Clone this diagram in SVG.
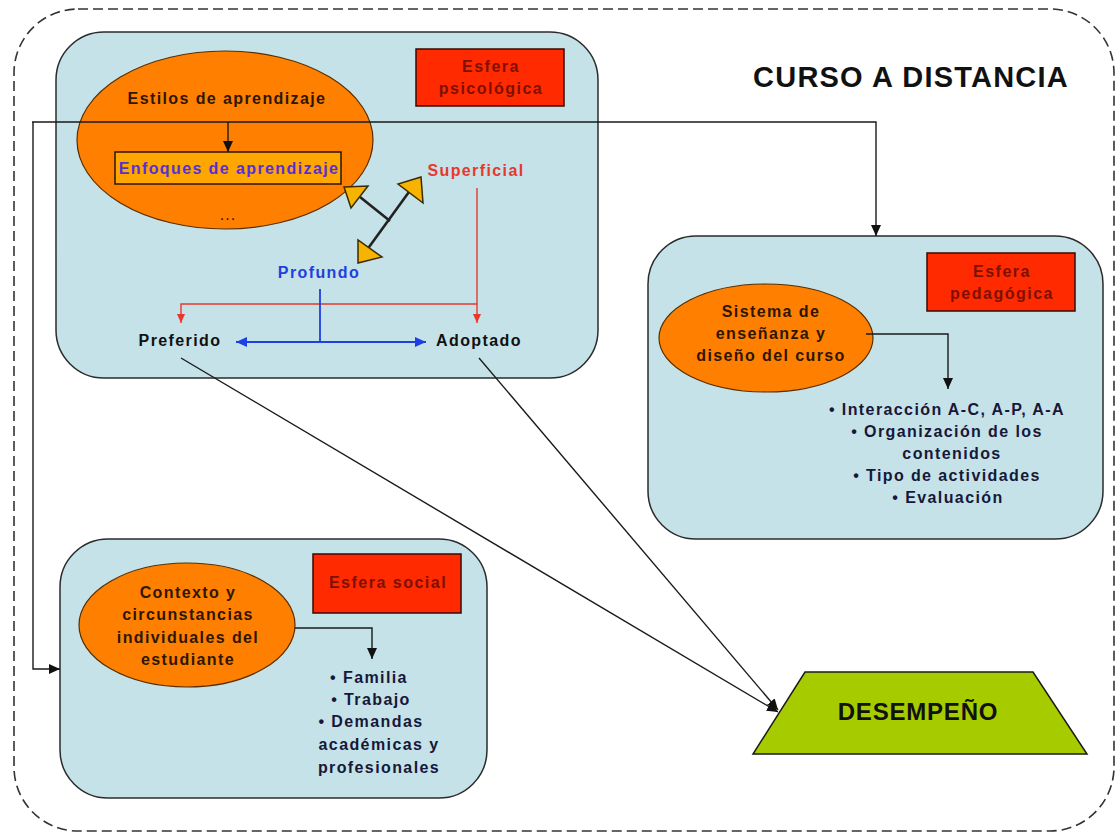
<svg xmlns="http://www.w3.org/2000/svg" width="1118" height="834" viewBox="0 0 1118 834">
  <defs>
    <style>
      .txt { font-family: "Liberation Sans", Arial, Helvetica, sans-serif; font-weight: bold; font-size: 16px; letter-spacing: 1.4px; text-anchor: middle; }
      .dark { fill: #2e1600; }
      .item { fill: #17173a; }
      .lab { fill: #7e1000; letter-spacing: 1.5px; }
      .sphere { fill: #c4e2e7; stroke: #2b2b2b; stroke-width: 1.5; }
      .oval { fill: #ff8000; stroke: #5a2d00; stroke-width: 1.2; }
      .tag { fill: #ff2a00; stroke: #3a0a00; stroke-width: 1.5; }
      .tri { fill: #f6b300; stroke: #3b2a00; stroke-width: 1.5; stroke-linejoin: miter; }
      .link { fill: none; stroke: #1a1a1a; stroke-width: 1.4; }
      .red { fill: none; stroke: #e8382d; stroke-width: 1.4; }
      .blue { fill: none; stroke: #1f3fe0; stroke-width: 1.8; }
    </style>
    <marker id="ah" markerUnits="userSpaceOnUse" markerWidth="12" markerHeight="10" refX="11" refY="5" orient="auto">
      <path d="M0,0 L11,5 L0,10 z" fill="#111"/>
    </marker>
    <marker id="ah-red" markerUnits="userSpaceOnUse" markerWidth="10" markerHeight="8" refX="9" refY="4" orient="auto">
      <path d="M0,0 L9,4 L0,8 z" fill="#e8382d"/>
    </marker>
    <marker id="ah-blue" markerUnits="userSpaceOnUse" markerWidth="12" markerHeight="10" refX="11" refY="5" orient="auto-start-reverse">
      <path d="M0,0 L11,5 L0,10 z" fill="#1f3fe0"/>
    </marker>
  </defs>

  <rect width="1118" height="834" fill="#ffffff"/>

  <!-- course frame -->
  <g id="curso-frame">
    <rect x="14" y="9" width="1100" height="822" rx="64" ry="64" fill="none" stroke="#333" stroke-width="1.6" stroke-dasharray="10 5"/>
    <text class="txt" x="911" y="87" style="font-size:29px; letter-spacing:1.2px; fill:#111">CURSO A DISTANCIA</text>
  </g>

  <!-- psychological sphere -->
  <g id="esfera-psicologica">
    <rect class="sphere" x="56" y="32" width="542" height="346" rx="48" ry="48"/>
    <ellipse class="oval" cx="225" cy="140" rx="148" ry="89"/>
    <text class="txt dark" x="227" y="104">Estilos de aprendizaje</text>
    <rect x="115" y="152" width="226" height="32" fill="#ffa600" stroke="#2a1500" stroke-width="1.5"/>
    <text class="txt" x="229" y="174" style="fill:#5530d8">Enfoques de aprendizaje</text>
    <text class="txt dark" x="228" y="220" style="font-weight:normal; letter-spacing:1px">...</text>
    <rect class="tag" x="416" y="49" width="148" height="57"/>
    <text class="txt lab" x="491" y="72">Esfera</text>
    <text class="txt lab" x="491" y="94">psicológica</text>
    <!-- approach switch -->
    <line x1="360" y1="197" x2="390" y2="221" stroke="#222" stroke-width="2.6"/>
    <line x1="364" y1="254" x2="414" y2="185" stroke="#222" stroke-width="2.6"/>
    <polygon class="tri" points="344,187 368,186 351,208"/>
    <polygon class="tri" points="421,177 398,184 423,203"/>
    <polygon class="tri" points="358,263 358,240 382,257"/>
    <text class="txt" x="476" y="176" style="fill:#e8382d">Superficial</text>
    <text class="txt" x="319" y="278" style="fill:#1f3fe0">Profundo</text>
    <text class="txt" x="180" y="346" style="fill:#111">Preferido</text>
    <text class="txt" x="479" y="346" style="fill:#111">Adoptado</text>
  </g>

  <!-- pedagogical sphere -->
  <g id="esfera-pedagogica">
    <rect class="sphere" x="648" y="236" width="455" height="303" rx="48" ry="48"/>
    <ellipse class="oval" cx="766" cy="338" rx="107" ry="54"/>
    <text class="txt dark" x="771" y="317">Sistema de</text>
    <text class="txt dark" x="771" y="339">enseñanza y</text>
    <text class="txt dark" x="771" y="361">diseño del curso</text>
    <rect class="tag" x="927" y="253" width="148" height="58"/>
    <text class="txt lab" x="1002" y="277">Esfera</text>
    <text class="txt lab" x="1002" y="299">pedagógica</text>
    <text class="txt item" x="947" y="415">• Interacción A-C, A-P, A-A</text>
    <text class="txt item" x="947" y="437">•  Organización de los</text>
    <text class="txt item" x="952" y="459">contenidos</text>
    <text class="txt item" x="947" y="481">• Tipo de actividades</text>
    <text class="txt item" x="948" y="503">• Evaluación</text>
  </g>

  <!-- social sphere -->
  <g id="esfera-social">
    <rect class="sphere" x="60" y="539" width="427" height="259" rx="48" ry="48"/>
    <ellipse class="oval" cx="187" cy="625" rx="108" ry="62"/>
    <text class="txt dark" x="188" y="598">Contexto y</text>
    <text class="txt dark" x="188" y="620">circunstancias</text>
    <text class="txt dark" x="188" y="643">individuales del</text>
    <text class="txt dark" x="188" y="665">estudiante</text>
    <rect class="tag" x="313" y="554" width="148" height="59"/>
    <text class="txt lab" x="388" y="588">Esfera social</text>
    <text class="txt item" x="369" y="683">• Familia</text>
    <text class="txt item" x="371" y="705">• Trabajo</text>
    <text class="txt item" x="371" y="727">• Demandas</text>
    <text class="txt item" x="379" y="750">académicas y</text>
    <text class="txt item" x="379" y="773">profesionales</text>
  </g>

  <!-- performance -->
  <g id="desempeno">
    <polygon points="805,672 1033,672 1087,754 753,754" fill="#a6cc00" stroke="#1a1a1a" stroke-width="1.5"/>
    <text class="txt" x="918" y="720" style="font-size:24px; letter-spacing:0.8px; fill:#111">DESEMPEÑO</text>
  </g>

  <!-- connectors -->
  <g id="connectors">
    <polyline class="link" points="32,122 876,122 876,236" marker-end="url(#ah)"/>
    <polyline class="link" points="33,122 33,669 60,669" marker-end="url(#ah)"/>
    <line class="link" x1="228" y1="122" x2="228" y2="152" marker-end="url(#ah)"/>
    <polyline class="link" points="866,334 948,334 948,389" marker-end="url(#ah)"/>
    <polyline class="link" points="295,628 372,628 372,659" marker-end="url(#ah)"/>
    <line class="red" x1="477" y1="188" x2="477" y2="323" marker-end="url(#ah-red)"/>
    <polyline class="red" points="477,304 181,304 181,323" marker-end="url(#ah-red)"/>
    <line class="blue" x1="320" y1="289" x2="320" y2="342"/>
    <line class="blue" x1="236" y1="342" x2="426" y2="342" marker-start="url(#ah-blue)" marker-end="url(#ah-blue)"/>
    <line class="link" x1="181" y1="358" x2="778" y2="712" marker-end="url(#ah)"/>
    <line class="link" x1="479" y1="358" x2="778" y2="710" marker-end="url(#ah)"/>
  </g>
</svg>
